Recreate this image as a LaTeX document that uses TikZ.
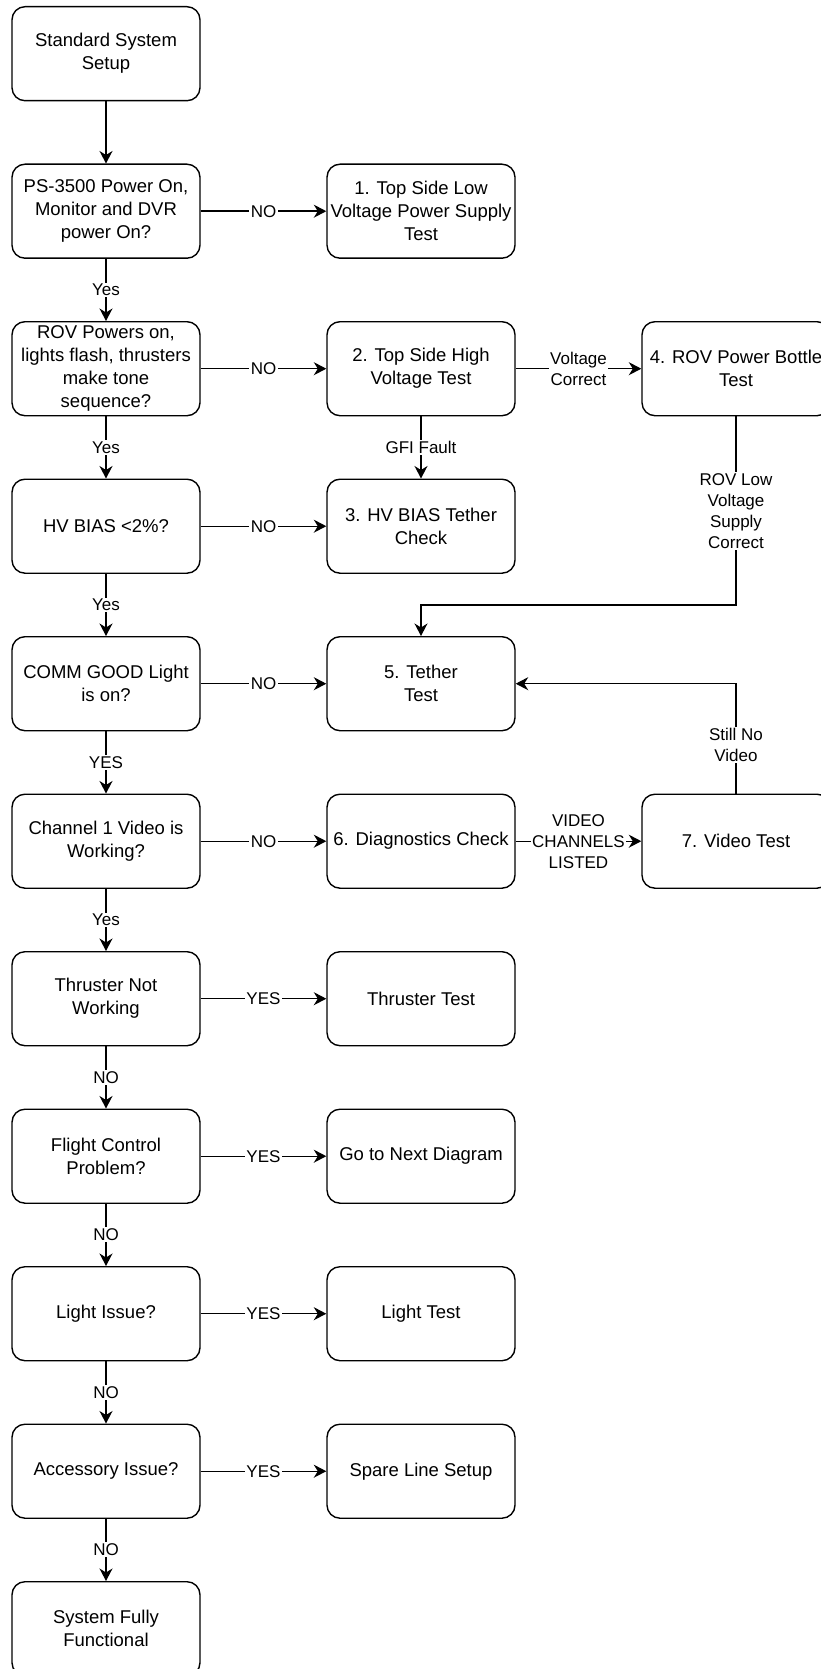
\documentclass[tikz,border=0pt]{standalone}
\usepackage{fontspec}
\setmainfont{Liberation Sans}
\usetikzlibrary{arrows.meta}
\begin{document}
\begin{tikzpicture}[x=1pt,y=-1pt,
  box/.style={draw, line width=1.4pt, rounded corners=13pt, minimum width=188pt, minimum height=94pt, inner sep=0pt, align=center, font=\fontsize{18.5}{23}\selectfont},
  lbl/.style={fill=white, inner sep=1.5pt, align=center, font=\fontsize{17}{21}\selectfont},
  conn/.style={line width=1.4pt, -{Stealth[length=12.5pt,width=13pt,inset=4pt]}}]
\useasboundingbox (0,0) rectangle (821,1669);
\clip (0,0) rectangle (821,1669);
% left column
\node[box] (s0) at (106,53.7) {Standard System\\Setup};
\node[box] (s1) at (106,211.2) {PS-3500 Power On,\\Monitor and DVR\\power On?};
\node[box] (s2) at (106,368.7) {ROV Powers on,\\lights flash, thrusters\\make tone\\sequence?};
\node[box] (s3) at (106,526.2) {HV BIAS <2\%?};
\node[box] (s4) at (106,683.7) {COMM GOOD Light\\is on?};
\node[box] (s5) at (106,841.2) {Channel 1 Video is\\Working?};
\node[box] (s6) at (106,998.7) {Thruster Not\\Working};
\node[box] (s7) at (106,1156.2) {Flight Control\\Problem?};
\node[box] (s8) at (106,1313.7) {Light Issue?};
\node[box] (s9) at (106,1471.2) {Accessory Issue?};
\node[box] (s10) at (106,1628.7) {System Fully\\Functional};
% middle column
\node[box] (t1) at (421,211.2) {1. Top Side Low\\Voltage Power Supply\\Test};
\node[box] (t2) at (421,368.7) {2. Top Side High\\Voltage Test};
\node[box] (t3) at (421,526.2) {3. HV BIAS Tether\\Check};
\node[box] (t5) at (421,683.7) {5. Tether\\Test};
\node[box] (t6) at (421,841.2) {6. Diagnostics Check};
\node[box] (tt) at (421,998.7) {Thruster Test};
\node[box] (tn) at (421,1156.2) {Go to Next Diagram};
\node[box] (tl) at (421,1313.7) {Light Test};
\node[box] (ts) at (421,1471.2) {Spare Line Setup};
% right column
\node[box] (t4) at (736,368.7) {4. ROV Power Bottle\\Test};
\node[box] (t7) at (736,841.2) {7. Video Test};
\coordinate (k4) at (736,605);
\coordinate (k7) at (736,683.7);
% connectors
\draw[conn] (s0) -- (s1);
\draw[conn] (s1) -- node[lbl]{NO} (t1);
\draw[conn] (s1) -- node[lbl]{Yes} (s2);
\draw[conn] (s2) -- node[lbl]{NO} (t2);
\draw[conn] (s2) -- node[lbl]{Yes} (s3);
\draw[conn] (t2) -- node[lbl]{Voltage\\Correct} (t4);
\draw[conn] (t2) -- node[lbl]{GFI Fault} (t3);
\draw[conn] (s3) -- node[lbl]{NO} (t3);
\draw[conn] (t4.south) -- node[lbl]{ROV Low\\Voltage\\Supply\\Correct} (k4) -| (t5.north);
\draw[conn] (s3) -- node[lbl]{Yes} (s4);
\draw[conn] (s4) -- node[lbl]{NO} (t5);
\draw[conn] (s4) -- node[lbl]{YES} (s5);
\draw[conn] (s5) -- node[lbl]{NO} (t6);
\draw[conn] (t6) -- node[lbl]{VIDEO\\CHANNELS\\LISTED} (t7);
\draw[conn] (t7.north) -- node[lbl,pos=0.44]{Still No\\Video} (k7) -- (t5.east);
\draw[conn] (s5) -- node[lbl]{Yes} (s6);
\draw[conn] (s6) -- node[lbl]{YES} (tt);
\draw[conn] (s6) -- node[lbl]{NO} (s7);
\draw[conn] (s7) -- node[lbl]{YES} (tn);
\draw[conn] (s7) -- node[lbl]{NO} (s8);
\draw[conn] (s8) -- node[lbl]{YES} (tl);
\draw[conn] (s8) -- node[lbl]{NO} (s9);
\draw[conn] (s9) -- node[lbl]{YES} (ts);
\draw[conn] (s9) -- node[lbl]{NO} (s10);
\end{tikzpicture}
\end{document}
